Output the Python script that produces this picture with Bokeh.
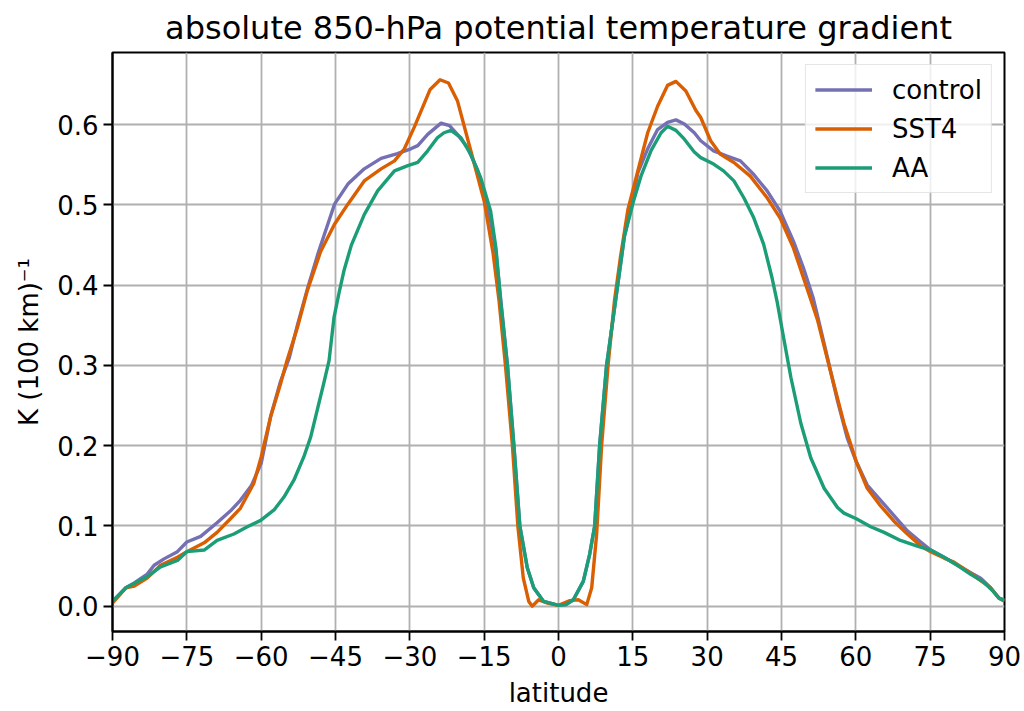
from bokeh.plotting import figure
from bokeh.models import Range1d, FixedTicker, CustomJSTickFormatter, Legend, LegendItem
from bokeh.embed import file_html
from bokeh.resources import INLINE

# ---------------- data ----------------
title_text = "absolute 850-hPa potential temperature gradient"
x_label = "latitude"
y_label = "K (100 km)\u207b\u00b9"
x_ticks = [-90, -75, -60, -45, -30, -15, 0, 15, 30, 45, 60, 75, 90]
y_ticks = [0.0, 0.1, 0.2, 0.3, 0.4, 0.5, 0.6]
series_names = ["control", "SST4", "AA"]
series_colors = ["#7570b3", "#d95f02", "#1b9e77"]

control_lat = [-90, -87.3, -85.6, -83.0, -81.6, -79.6, -76.9, -75.0, -72.2, -68.9,
               -66.0, -64.2, -62.0, -60.0, -58.1, -56.1, -54.3, -52.7, -50.6, -48.4,
               -45.2, -42.5, -39.2, -35.8, -32.5, -29.8, -28.4, -26.4, -23.7, -22.0,
               -20.4, -18.4, -16.3, -15.0, -13.7, -12.6, -11.7, -10.3, -9.0, -7.8,
               -6.3, -5.0, -3.0, 0.0, 1.5, 3.0, 5.0, 6.3, 7.3, 8.3,
               9.7, 11.5, 13.3, 14.8, 16.0, 18.0, 20.0, 22.0, 23.7, 25.4,
               27.4, 28.7, 31.3, 34.0, 36.7, 39.4, 42.1, 44.7, 47.4, 49.4,
               51.4, 52.3, 54.3, 56.3, 58.3, 60.1, 62.3, 65.0, 67.7, 70.4,
               73.1, 75.1, 77.8, 80.5, 83.1, 85.2, 87.2, 88.9, 90.0]
control_val = [0.006, 0.023, 0.029, 0.040, 0.051, 0.059, 0.068, 0.080, 0.087, 0.104,
               0.120, 0.132, 0.150, 0.178, 0.236, 0.280, 0.310, 0.350, 0.397, 0.442,
               0.501, 0.526, 0.545, 0.558, 0.564, 0.570, 0.574, 0.588, 0.602, 0.599,
               0.588, 0.572, 0.543, 0.509, 0.480, 0.440, 0.385, 0.300, 0.200, 0.100,
               0.048, 0.023, 0.006, 0.001, 0.002, 0.008, 0.031, 0.065, 0.100, 0.200,
               0.300, 0.380, 0.461, 0.500, 0.540, 0.570, 0.594, 0.603, 0.606, 0.601,
               0.590, 0.580, 0.5675, 0.561, 0.555, 0.538, 0.5175, 0.4925, 0.455, 0.422,
               0.384, 0.361, 0.309, 0.256, 0.209, 0.180, 0.151, 0.132, 0.113, 0.094,
               0.080, 0.070, 0.061, 0.051, 0.042, 0.035, 0.023, 0.010, 0.008]

sst4_lat = [-90, -87.3, -85.6, -83.0, -80.3, -76.9, -75.0, -71.5, -68.9, -66.2,
            -64.2, -61.5, -60.0, -58.1, -56.1, -54.8, -52.7, -50.7, -48.0, -45.2,
            -42.5, -39.2, -35.8, -33.1, -31.1, -29.1, -27.7, -25.9, -23.9, -22.2,
            -20.4, -17.7, -15.0, -13.2, -12.0, -10.7, -9.3, -8.2, -7.1, -6.0,
            -5.3, -4.0, -2.3, 0.0, 2.3, 4.0, 5.7, 6.7, 7.7, 8.7,
            10.0, 11.3, 12.5, 14.0, 16.0, 18.0, 20.0, 22.0, 23.7, 25.7,
            27.7, 28.7, 30.7, 32.7, 35.4, 38.7, 42.1, 44.7, 47.4, 50.8,
            52.3, 55.0, 57.6, 60.1, 62.3, 65.0, 67.7, 70.4, 73.1, 75.1,
            77.8, 79.8, 82.5, 85.2, 87.2, 88.9, 90.0]
sst4_val = [0.004, 0.023, 0.025, 0.035, 0.051, 0.061, 0.068, 0.079, 0.092, 0.109,
            0.122, 0.153, 0.186, 0.236, 0.277, 0.306, 0.347, 0.393, 0.442, 0.476,
            0.501, 0.530, 0.545, 0.555, 0.570, 0.597, 0.6175, 0.644, 0.656, 0.652,
            0.630, 0.5675, 0.505, 0.440, 0.381, 0.300, 0.200, 0.100, 0.035, 0.006,
            0.000, 0.008, 0.004, 0.001, 0.007, 0.008, 0.002, 0.023, 0.090, 0.200,
            0.300, 0.381, 0.435, 0.494, 0.542, 0.590, 0.623, 0.649, 0.654, 0.642,
            0.618, 0.609, 0.580, 0.563, 0.553, 0.536, 0.509, 0.484, 0.4465, 0.384,
            0.356, 0.290, 0.228, 0.180, 0.147, 0.125, 0.106, 0.090, 0.075, 0.068,
            0.060, 0.055, 0.044, 0.032, 0.023, 0.010, 0.006]

aa_lat = [-90, -87.3, -83.0, -80.3, -76.9, -75.0, -71.5, -68.9, -65.5, -62.8,
          -60.1, -57.4, -55.4, -53.4, -51.4, -50.0, -48.7, -47.4, -46.3, -45.3,
          -44.3, -43.3, -41.8, -39.2, -36.5, -33.1, -30.4, -28.4, -26.4, -24.4,
          -23.1, -21.7, -19.7, -17.7, -15.7, -13.7, -12.6, -11.7, -10.3, -9.0,
          -7.8, -6.3, -5.0, -3.0, 0.0, 1.5, 3.0, 5.0, 6.3, 7.3,
          8.3, 9.7, 11.5, 13.3, 15.1, 16.7, 18.7, 20.7, 22.0, 23.7,
          25.4, 27.4, 28.7, 31.3, 33.3, 35.4, 37.4, 39.4, 41.4, 43.1,
          44.1, 45.5, 46.9, 48.9, 50.9, 53.6, 56.3, 57.6, 60.1, 63.0,
          65.7, 69.0, 72.4, 75.1, 77.8, 80.5, 83.1, 85.8, 87.8, 88.9, 90.0]
aa_val = [0.006, 0.023, 0.037, 0.049, 0.057, 0.068, 0.070, 0.082, 0.090, 0.099,
          0.107, 0.120, 0.136, 0.157, 0.186, 0.211, 0.244, 0.277, 0.306, 0.360,
          0.390, 0.418, 0.450, 0.488, 0.5175, 0.5425, 0.549, 0.553, 0.5675, 0.584,
          0.590, 0.593, 0.584, 0.563, 0.534, 0.4925, 0.445, 0.381, 0.300, 0.200,
          0.100, 0.048, 0.023, 0.006, 0.001, 0.002, 0.008, 0.031, 0.065, 0.100,
          0.200, 0.300, 0.380, 0.461, 0.504, 0.537, 0.568, 0.590, 0.598, 0.593,
          0.582, 0.566, 0.559, 0.551, 0.5425, 0.530, 0.509, 0.484, 0.451, 0.409,
          0.380, 0.332, 0.285, 0.228, 0.185, 0.147, 0.123, 0.116, 0.109, 0.099,
          0.092, 0.082, 0.075, 0.070, 0.061, 0.051, 0.040, 0.030, 0.018, 0.010, 0.007]

# ---------------- figure ----------------
FONT = "DejaVu Sans"
TICK_FS = "26px"
p = figure(frame_width=892, frame_height=579,
           min_border_left=112, min_border_right=18, min_border_top=52, min_border_bottom=78,
           x_range=Range1d(-90, 90), y_range=Range1d(-0.0315, 0.690),
           output_backend="svg", toolbar_location=None, background_fill_color="white",
           border_fill_color="white")

p.title.text = title_text
p.title.align = "center"
p.title.text_font = FONT
p.title.text_font_size = "32px"
p.title.text_font_style = "normal"
p.title.text_color = "black"
p.title.standoff = 11

p.outline_line_color = "black"
p.outline_line_width = 2

p.xaxis.ticker = FixedTicker(ticks=x_ticks)
p.yaxis.ticker = FixedTicker(ticks=y_ticks)
p.xaxis.formatter = CustomJSTickFormatter(
    code="return (tick < 0 ? '\\u2212' : '') + Math.abs(tick).toFixed(0);")
p.yaxis.formatter = CustomJSTickFormatter(
    code="return (tick < 0 ? '\\u2212' : '') + Math.abs(tick).toFixed(1);")

for ax in (p.xaxis[0], p.yaxis[0]):
    ax.axis_line_color = "black"
    ax.axis_line_width = 2
    ax.major_tick_line_color = "black"
    ax.major_tick_line_width = 1.8
    ax.major_tick_out = 9
    ax.major_tick_in = 0
    ax.minor_tick_line_color = None
    ax.major_label_text_font = FONT
    ax.major_label_text_font_size = TICK_FS
    ax.major_label_text_color = "black"
    ax.axis_label_text_font = FONT
    ax.axis_label_text_font_size = TICK_FS
    ax.axis_label_text_font_style = "normal"
    ax.axis_label_text_color = "black"
    ax.major_label_standoff = 5

p.xaxis.axis_label = x_label
p.yaxis.axis_label = y_label
p.xaxis.axis_label_standoff = 9
p.yaxis.axis_label_standoff = 10

for g in (p.xgrid[0], p.ygrid[0]):
    g.grid_line_color = "#b0b0b0"
    g.grid_line_width = 1.8

items = []
for name, color, lat, val in zip(series_names, series_colors,
                                 [control_lat, sst4_lat, aa_lat],
                                 [control_val, sst4_val, aa_val]):
    r = p.line(lat, val, line_color=color, line_width=3.4, line_join="round")
    items.append(LegendItem(label=name, renderers=[r]))

legend = Legend(items=items, location="top_right")
legend.margin = 12
legend.padding = 9
legend.spacing = 8
legend.glyph_width = 57
legend.glyph_height = 31
legend.label_height = 31
legend.label_standoff = 20
legend.label_text_font = FONT
legend.label_text_font_size = TICK_FS
legend.label_text_color = "black"
legend.border_line_color = "#cccccc"
legend.border_line_width = 1.8
legend.background_fill_color = "white"
legend.background_fill_alpha = 0.8
p.add_layout(legend)

open("out.html", "w").write(file_html(p, INLINE))
